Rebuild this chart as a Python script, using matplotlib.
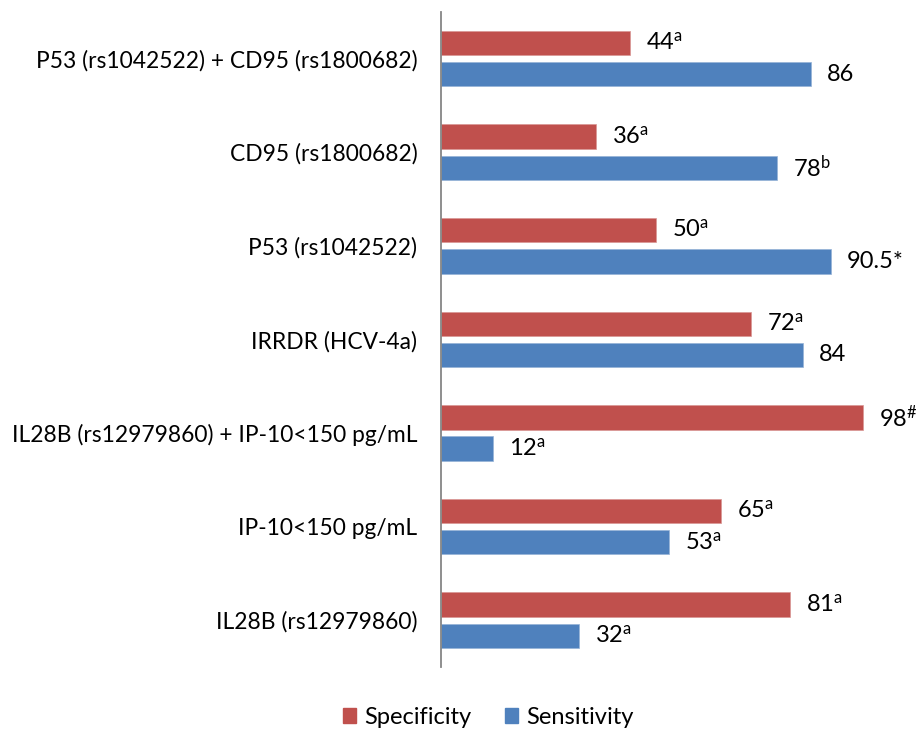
import numpy as np
import matplotlib
matplotlib.use("Agg")
import matplotlib.pyplot as plt
from matplotlib.patches import Patch

plt.rcParams['font.family'] = ['Lato', 'DejaVu Sans']
plt.rcParams['mathtext.fontset'] = 'custom'
plt.rcParams['mathtext.rm'] = 'Lato'
plt.rcParams['mathtext.it'] = 'Lato'

# categories from top to bottom
categories = ['P53 (rs1042522) + CD95 (rs1800682)',
              'CD95 (rs1800682)',
              'P53 (rs1042522)',
              'IRRDR (HCV-4a)',
              'IL28B (rs12979860) + IP-10<150 pg/mL',
              'IP-10<150 pg/mL',
              'IL28B (rs12979860)']
specificity = [44, 36, 50, 72, 98, 65, 81]
sensitivity = [86, 78, 90.5, 84, 12, 53, 32]
spec_labels = ['44$^{\\mathrm{a}}$', '36$^{\\mathrm{a}}$', '50$^{\\mathrm{a}}$',
               '72$^{\\mathrm{a}}$', '98$^{\\#}$', '65$^{\\mathrm{a}}$', '81$^{\\mathrm{a}}$']
sens_labels = ['86', '78$^{\\mathrm{b}}$', '90.5*', '84',
               '12$^{\\mathrm{a}}$', '53$^{\\mathrm{a}}$', '32$^{\\mathrm{a}}$']

red = '#C0504D'
blue = '#4F81BD'

fig = plt.figure(figsize=(9.16, 7.29), dpi=100)
ax = fig.add_axes([0.4814, 0.085, 0.47, 0.899])

y = np.arange(len(categories))
h = 0.26
off = 0.167
ax.barh(y - off, specificity, height=h, color=red, edgecolor='#D99694', linewidth=0.5)
ax.barh(y + off, sensitivity, height=h, color=blue, edgecolor='#95B3D7', linewidth=0.5)

for i in range(len(categories)):
    ax.text(specificity[i] + 3.7, y[i] - off, spec_labels[i], va='center', ha='left', fontsize=17)
    ax.text(sensitivity[i] + 3.7, y[i] + off, sens_labels[i], va='center', ha='left', fontsize=17)

ax.set_xlim(0, 100)
ax.set_ylim(len(categories) - 0.5, -0.5)
ax.set_yticks(y)
ax.set_yticklabels(categories, fontsize=16.4)
ax.tick_params(axis='y', length=0, pad=17)
ax.set_xticks([])
for s in ['top', 'right', 'bottom']:
    ax.spines[s].set_visible(False)
ax.spines['left'].set_color('#868686')
ax.spines['left'].set_linewidth(1.3)

handles = [Patch(color=red, label='Specificity'), Patch(color=blue, label='Sensitivity')]
fig.legend(handles=handles, loc='center', bbox_to_anchor=(0.533, 0.016), ncol=2,
           frameon=False, fontsize=17, handlelength=0.55, handleheight=0.55,
           handletextpad=0.34, columnspacing=1.45)

fig.savefig('out.png', dpi=100)
